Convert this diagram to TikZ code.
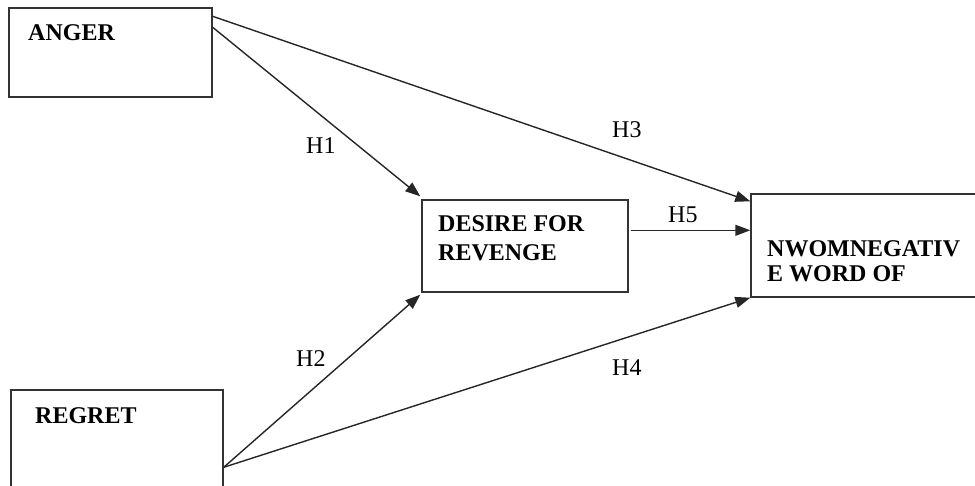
\documentclass[tikz,border=0pt]{standalone}
\usepackage{fontspec}
\setmainfont{Liberation Serif}
\usetikzlibrary{arrows.meta,calc}
\begin{document}
\begin{tikzpicture}[x=1pt,y=-1pt,
  boxnode/.style={draw=black!80,line width=1.4pt,rectangle,inner sep=0pt},
  lbl/.style={anchor=base west,inner sep=0pt,font=\fontsize{24}{28}\selectfont\bfseries},
  hlbl/.style={anchor=base west,inner sep=0pt,font=\fontsize{24}{28}\selectfont},
  conn/.style={line width=1.4pt,draw=black!85,-{Triangle[length=15pt,width=11pt]}}]
\useasboundingbox (0,0) rectangle (975,485);
\begin{scope}
\clip (0,0) rectangle (975,485);
\node[boxnode,minimum width=203pt,minimum height=89pt] (anger) at (110.5,52.5) {};
\node[boxnode,minimum width=206pt,minimum height=92pt] (desire) at (525,246) {};
\node[boxnode,minimum width=240pt,minimum height=103pt] (nwom) at (871,245.5) {};
\node[boxnode,minimum width=212pt,minimum height=120pt] (regret) at (117,450) {};
\end{scope}
\node[lbl] (tanger) at (28,40) {ANGER};
\node[lbl] (tdes1) at (438,231) {DESIRE FOR};
\node[lbl] (tdes2) at (438,260) {REVENGE};
\node[lbl] (tnw1) at (767,256) {NWOMNEGATIV};
\node[lbl] (tnw2) at (767,281) {E WORD OF};
\node[lbl] (tregret) at (35,423) {REGRET};
\coordinate (a3) at ($(anger.north east)+(0,9)$);
\coordinate (a1) at ($(anger.north east)+(0,20)$);
\coordinate (rg) at ($(regret.north east)+(0,78)$);
\coordinate (d5) at ($(desire.north east)+(2,31)$);
\coordinate (n3) at ($(nwom.north west)+(0,8)$);
\coordinate (n5) at ($(nwom.north west)+(0,37)$);
\coordinate (n4) at ($(nwom.south west)+(0,0)$);
\coordinate (d1) at ($(desire.north west)+(-1,-3)$);
\coordinate (d2) at ($(desire.south west)+(-1,2)$);
\draw[conn] (a3) -- (n3);
\draw[conn] (a1) -- (d1);
\draw[conn] (rg) -- (d2);
\draw[conn] (rg) -- (n4);
\draw[conn] (d5) -- (n5);
\node[hlbl] (h1) at (306,153) {H1};
\node[hlbl] (h2) at (296,366) {H2};
\node[hlbl] (h3) at (612,137) {H3};
\node[hlbl] (h4) at (612,375) {H4};
\node[hlbl] (h5) at (668,222) {H5};
\end{tikzpicture}
\end{document}
